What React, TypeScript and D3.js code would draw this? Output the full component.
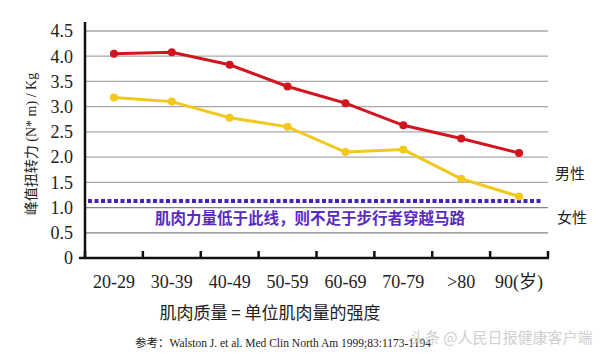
import React, { useRef, useEffect } from 'react';
import * as d3 from 'd3';

const ageGroups = ['20-29', '30-39', '40-49', '50-59', '60-69', '70-79', '>80', '90(岁)'];
const maleValues = [4.05, 4.08, 3.83, 3.4, 3.07, 2.63, 2.37, 2.08];
const femaleValues = [3.18, 3.1, 2.78, 2.6, 2.1, 2.15, 1.57, 1.22];
const yTicks = [0, 0.5, 1.0, 1.5, 2.0, 2.5, 3.0, 3.5, 4.0, 4.5];
const thresholdValue = 1.13;

const App = () => {
  const svgRef = useRef<SVGSVGElement>(null);

  useEffect(() => {
    const svg = d3.select(svgRef.current);
    svg.selectAll('*').remove();

    const left = 85;
    const right = 548;
    const top = 31;
    const bottom = 258;
    const serif = '"Liberation Serif", "Noto Sans CJK SC", serif';
    const sans = '"Noto Sans CJK SC", sans-serif';

    const x = d3.scaleBand().domain(ageGroups).range([left, right]);
    const y = d3.scaleLinear().domain([0, 4.5]).range([bottom, top]);

    svg.append('rect').attr('width', 600).attr('height', 360).attr('fill', '#fff');

    // gridlines
    svg.append('g')
      .selectAll('line')
      .data(yTicks.filter(d => d > 0))
      .enter()
      .append('line')
      .attr('x1', left)
      .attr('x2', right)
      .attr('y1', d => y(d))
      .attr('y2', d => y(d))
      .attr('stroke', d => (d < 1.5 ? '#8a7f8a' : '#a8a8a8'))
      .attr('stroke-width', 1.3);

    // y tick labels
    svg.append('g')
      .selectAll('text')
      .data(yTicks)
      .enter()
      .append('text')
      .attr('x', 73)
      .attr('y', d => y(d))
      .attr('dy', '0.35em')
      .attr('text-anchor', 'end')
      .attr('font-family', serif)
      .attr('font-size', 18)
      .attr('fill', '#222')
      .text(d => (d === 0 ? '0' : d.toFixed(1)));

    // axes
    svg.append('line')
      .attr('x1', left).attr('x2', left)
      .attr('y1', 22).attr('y2', bottom + 1)
      .attr('stroke', '#111').attr('stroke-width', 2.5);

    svg.append('line')
      .attr('x1', left - 6).attr('x2', right + 1)
      .attr('y1', bottom).attr('y2', bottom)
      .attr('stroke', '#111').attr('stroke-width', 2.5);

    const tickXs = ageGroups.map(d => x(d) as number).concat([right]);
    svg.append('g')
      .selectAll('line')
      .data(tickXs)
      .enter()
      .append('line')
      .attr('x1', d => d).attr('x2', d => d)
      .attr('y1', bottom).attr('y2', bottom - 7)
      .attr('stroke', '#111').attr('stroke-width', 2.5);

    // x tick labels
    svg.append('g')
      .selectAll('text')
      .data(ageGroups)
      .enter()
      .append('text')
      .attr('x', d => (x(d) as number) + x.bandwidth() / 2)
      .attr('y', 288)
      .attr('text-anchor', 'middle')
      .attr('font-family', serif)
      .attr('font-size', 18)
      .attr('fill', '#222')
      .text(d => d);

    // threshold dotted line
    svg.append('line')
      .attr('x1', left + 3).attr('x2', 542)
      .attr('y1', y(thresholdValue)).attr('y2', y(thresholdValue))
      .attr('stroke', '#4b22b8')
      .attr('stroke-width', 4)
      .attr('stroke-dasharray', '4 2.5');

    const line = d3.line<number>()
      .x((_, i) => (x(ageGroups[i]) as number) + x.bandwidth() / 2)
      .y(d => y(d));

    const drawSeries = (values: number[], color: string) => {
      svg.append('path')
        .datum(values)
        .attr('d', line)
        .attr('fill', 'none')
        .attr('stroke', color)
        .attr('stroke-width', 3);
      svg.append('g')
        .selectAll('circle')
        .data(values)
        .enter()
        .append('circle')
        .attr('cx', (_, i) => (x(ageGroups[i]) as number) + x.bandwidth() / 2)
        .attr('cy', d => y(d))
        .attr('r', 4)
        .attr('fill', color);
    };

    drawSeries(femaleValues, '#f2c81c');
    drawSeries(maleValues, '#d2141e');

    // annotation
    svg.append('text')
      .attr('x', 155)
      .attr('y', 224)
      .attr('font-family', sans)
      .attr('font-weight', 'bold')
      .attr('font-size', 15.5)
      .attr('fill', '#5a2bc0')
      .text('肌肉力量低于此线，则不足于步行者穿越马路');

    svg.append('text')
      .attr('x', 555).attr('y', 179)
      .attr('font-family', sans)
      .attr('font-size', 15)
      .attr('fill', '#222')
      .text('男性');

    svg.append('text')
      .attr('x', 557).attr('y', 223)
      .attr('font-family', sans)
      .attr('font-size', 15)
      .attr('fill', '#222')
      .text('女性');

    // y title
    svg.append('text')
      .attr('transform', 'translate(36, 144) rotate(-90)')
      .attr('text-anchor', 'middle')
      .attr('font-family', serif)
      .attr('font-size', 14)
      .attr('fill', '#222')
      .text('峰值扭转力 (N* m) / Kg');

    // x title
    svg.append('text')
      .attr('x', 270).attr('y', 319)
      .attr('text-anchor', 'middle')
      .attr('font-family', sans)
      .attr('font-size', 17)
      .attr('fill', '#222')
      .text('肌肉质量 = 单位肌肉量的强度');

    // reference
    svg.append('text')
      .attr('x', 135).attr('y', 347)
      .attr('font-family', serif)
      .attr('font-size', 11.5)
      .attr('fill', '#222')
      .text('参考：Walston J. et al. Med Clin North Am 1999;83:1173-1194');

    // watermark
    svg.append('text')
      .attr('x', 410).attr('y', 343)
      .attr('font-family', sans)
      .attr('font-size', 15)
      .attr('fill', '#cfcfcf')
      .text('头条 @人民日报健康客户端');
  }, []);

  return (
    <svg
      ref={svgRef}
      width={600}
      height={360}
      style={{ position: 'absolute', left: 0, top: 0 }}
    ></svg>
  );
};

export default App;
